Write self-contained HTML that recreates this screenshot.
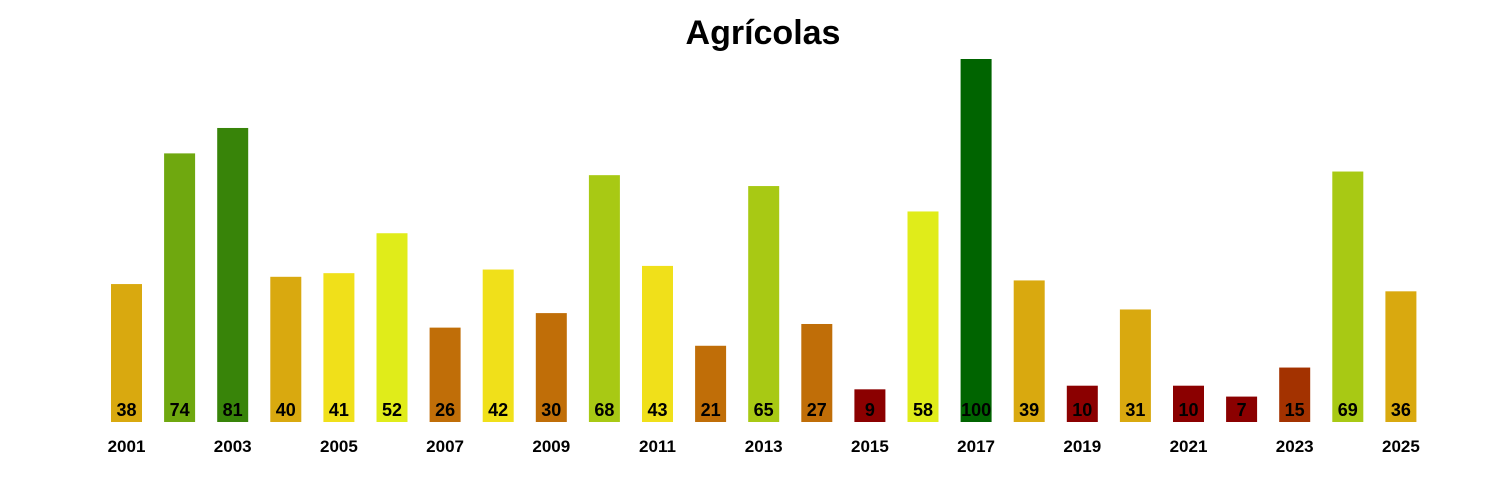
<!DOCTYPE html>
<html><head><meta charset="utf-8"><style>
html,body{margin:0;padding:0;background:#fff;}
svg{display:block;font-family:"Liberation Sans",Arial,sans-serif;}
</style></head><body>
<svg id="chart" width="1500" height="500">
<text x="763" y="44" text-anchor="middle" font-size="34" font-weight="bold">Agrícolas</text>
<g id="bars"></g>
<g id="xlabels"></g>
</svg>
<script>
const years = [2001,2002,2003,2004,2005,2006,2007,2008,2009,2010,2011,2012,2013,2014,2015,2016,2017,2018,2019,2020,2021,2022,2023,2024,2025];
const values = [38,74,81,40,41,52,26,42,30,68,43,21,65,27,9,58,100,39,10,31,10,7,15,69,36];
const yearLabels = [2001,2003,2005,2007,2009,2011,2013,2015,2017,2019,2021,2023,2025];

const NS="http://www.w3.org/2000/svg";
const baseY=422, pxPerUnit=3.63, x0=126.5, step=53.1, barW=31;
function xScale(i){return x0+i*step;}
function yScale(v){return baseY-v*pxPerUnit;}
function colorFor(v){
  if(v>=90) return "#006400";
  if(v>=78) return "#388409";
  if(v>=72) return "#6fa80f";
  if(v>=60) return "#a8c914";
  if(v>=50) return "#e0ec1a";
  if(v>=41) return "#f0e01a";
  if(v>=31) return "#d9a90f";
  if(v>=18) return "#c06e08";
  if(v>=12) return "#a33200";
  return "#8b0000";
}
const gb=document.getElementById("bars");
values.forEach((v,i)=>{
  const r=document.createElementNS(NS,"rect");
  r.setAttribute("x",xScale(i)-barW/2);
  r.setAttribute("y",yScale(v));
  r.setAttribute("width",barW);
  r.setAttribute("height",baseY-yScale(v));
  r.setAttribute("fill",colorFor(v));
  
  
  gb.appendChild(r);
  const t=document.createElementNS(NS,"text");
  t.setAttribute("x",xScale(i));
  t.setAttribute("y",416);
  t.setAttribute("text-anchor","middle");
  t.setAttribute("font-size","18");
  t.setAttribute("font-weight","bold");
  t.textContent=v;
  
  
  gb.appendChild(t);
});
const gx=document.getElementById("xlabels");
yearLabels.forEach(y=>{
  const i=years.indexOf(y);
  const t=document.createElementNS(NS,"text");
  t.setAttribute("x",xScale(i));
  t.setAttribute("y",452);
  t.setAttribute("text-anchor","middle");
  t.setAttribute("font-size","17");
  t.setAttribute("font-weight","bold");
  t.textContent=y;
  
  
  gx.appendChild(t);
});
</script>
</body></html>
